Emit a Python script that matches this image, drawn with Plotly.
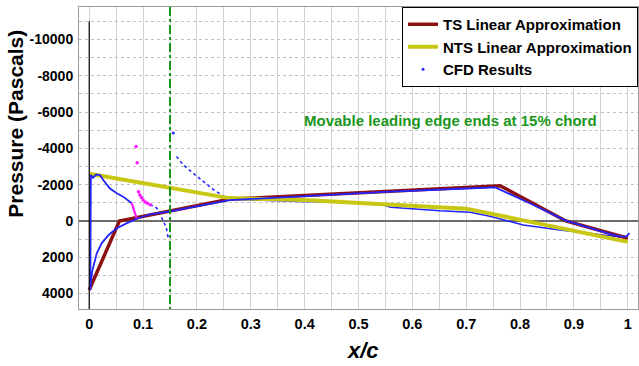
import plotly.graph_objects as go

# ---- data ----
ts_x = [0.0, 0.056, 0.26, 0.763, 0.885, 1.0]
ts_y = [3800, 0, -1200, -1945, 0, 950]

nts_x = [0.0, 0.26, 0.40, 0.70, 1.0]
nts_y = [-2600, -1260, -1150, -680, 1150]

# CFD lower surface (dense, looks continuous)
cfd_low_x = [0.001, 0.006, 0.014, 0.023, 0.036, 0.051, 0.069, 0.091, 0.113, 0.15,
             0.26, 0.40, 0.55, 0.70, 0.754, 0.82, 0.885, 0.94, 0.985, 0.998, 1.003]
cfd_low_y = [3800, 2700, 1780, 1230, 770, 400, 130, -150, -370, -530,
             -1150, -1380, -1600, -1790, -1850, -950, -20, 480, 860, 850, 660]

# CFD upper surface near leading edge
cfd_le_x = [0.002, 0.003, 0.007, 0.013, 0.020, 0.026, 0.038, 0.051, 0.063, 0.072, 0.079]
cfd_le_y = [3800, -2540, -2380, -2560, -2530, -2260, -1800, -1525, -1340, -1160, -975]

# CFD magenta segment and scattered magenta points
mag_line_x = [0.079, 0.082, 0.085, 0.088]
mag_line_y = [-975, -700, -330, -150]
mag_pts_x = [0.087, 0.089, 0.0915, 0.094, 0.097, 0.100, 0.104, 0.108, 0.113]
mag_pts_y = [-4100, -3210, -1615, -1430, -1290, -1160, -1050, -975, -900]

# CFD scattered points behind the hinge
cfd_sc_x = [0.113, 0.118, 0.122, 0.127, 0.131, 0.137, 0.143, 0.147]
cfd_sc_y = [-900, -860, -800, -650, -400, -60, 350, 1000]

# CFD upper surface after the hinge (sparse dotted branch)
cfd_br_x = [0.162, 0.175, 0.193, 0.212, 0.230, 0.246, 0.261]
cfd_br_y = [-3550, -3085, -2630, -2165, -1745, -1430, -1195]
cfd_iso_x = [0.156]
cfd_iso_y = [-4850]

# CFD upper surface, rest of chord
cfd_up_x = [0.261, 0.30, 0.39, 0.466, 0.546, 0.56, 0.651, 0.707, 0.744, 0.806, 0.874, 0.936, 0.986, 1.0]
cfd_up_y = [-1195, -1150, -1080, -1030, -880, -760, -560, -480, -260, 220, 500, 700, 880, 850]

x_ticks = [0, 0.1, 0.2, 0.3, 0.4, 0.5, 0.6, 0.7, 0.8, 0.9, 1]
y_ticks = [-10000, -8000, -6000, -4000, -2000, 0, 2000, 4000]
y_tick_text = ["-10000", "-8000", "-6000", "-4000", "-2000", "0", "2000", "4000"]

hinge_x = 0.15
note_text = "Movable leading edge ends at 15% chord"

FONT = "Liberation Sans, Arial, sans-serif"
RED = "#8c1212"
YEL = "#c8c814"
BLUE = "#2323ff"
MAG = "#ff14ff"
GREEN = "#1a961a"

fig = go.Figure()

# CFD traces (drawn first, beneath approximations)
fig.add_trace(go.Scatter(x=cfd_up_x, y=cfd_up_y, mode="lines",
                         line=dict(color=BLUE, width=1.6), showlegend=False))
fig.add_trace(go.Scatter(x=cfd_br_x, y=cfd_br_y, mode="lines",
                         line=dict(color=BLUE, width=1.6, dash="dot"), showlegend=False))
fig.add_trace(go.Scatter(x=cfd_iso_x, y=cfd_iso_y, mode="markers",
                         marker=dict(color=BLUE, size=3), showlegend=False))
fig.add_trace(go.Scatter(x=cfd_sc_x, y=cfd_sc_y, mode="lines",
                         line=dict(color=BLUE, width=1.6, dash="dot"), showlegend=False))

# approximations
fig.add_trace(go.Scatter(x=ts_x, y=ts_y, mode="lines", name="<b>TS Linear Approximation</b>",
                         line=dict(color=RED, width=3.5)))
fig.add_trace(go.Scatter(x=nts_x, y=nts_y, mode="lines", name="<b>NTS Linear Approximation</b>",
                         line=dict(color=YEL, width=4)))

fig.add_trace(go.Scatter(x=cfd_low_x, y=cfd_low_y, mode="lines",
                         line=dict(color=BLUE, width=1.8), showlegend=False))
fig.add_trace(go.Scatter(x=cfd_le_x, y=cfd_le_y, mode="lines",
                         line=dict(color=BLUE, width=1.8), showlegend=False))
fig.add_trace(go.Scatter(x=mag_line_x, y=mag_line_y, mode="lines",
                         line=dict(color=MAG, width=2.2), showlegend=False))
fig.add_trace(go.Scatter(x=mag_pts_x, y=mag_pts_y, mode="markers",
                         marker=dict(color=MAG, size=3.5), showlegend=False))

# legend entry for CFD
fig.add_trace(go.Scatter(x=[None], y=[None], mode="markers", name="<b>CFD Results</b>",
                         marker=dict(color=BLUE, size=3)))

# reference lines
fig.add_shape(type="line", xref="x", yref="y", x0=0, x1=0, y0=-11000, y1=4850,
              line=dict(color="black", width=1.2), layer="above")
fig.add_shape(type="line", xref="x", yref="y", x0=hinge_x, x1=hinge_x, y0=-11790, y1=4850,
              line=dict(color=GREEN, width=2, dash="dashdot"), layer="above")

fig.add_annotation(x=0.671, y=-5510, xref="x", yref="y", text="<b>" + note_text + "</b>",
                   showarrow=False, font=dict(family=FONT, size=15, color=GREEN))

# axis titles
fig.add_annotation(x=-0.113, y=0.613, xref="paper", yref="paper", text="<b>Pressure (Pascals)</b>",
                   textangle=-90, showarrow=False, xanchor="center", yanchor="middle",
                   font=dict(family=FONT, size=21, color="black"))
fig.add_annotation(x=0.508, y=-0.136, xref="paper", yref="paper", text="<b><i>x/c</i></b>",
                   showarrow=False, xanchor="center", yanchor="middle",
                   font=dict(family=FONT, size=22, color="black"))

fig.update_layout(
    width=639, height=366,
    margin=dict(l=79, r=1, t=7, b=57),
    paper_bgcolor="white", plot_bgcolor="white",
    font=dict(family=FONT, color="black"),
    legend=dict(x=1, y=1, xanchor="right", yanchor="top",
                bgcolor="white", bordercolor="black", borderwidth=1,
                font=dict(family=FONT, size=15, color="black"),
                tracegroupgap=0, itemwidth=30),
    xaxis=dict(range=[-0.019, 1.019], tickvals=x_ticks,
               tickfont=dict(family=FONT, size=14.5, color="black", weight="bold"),
               showgrid=True, gridcolor="#d4d4d4", gridwidth=1,
               minor=dict(dtick=0.05, showgrid=True, gridcolor="#d4d4d4", gridwidth=1),
               zeroline=False, showline=True, linecolor="#9a9a9a", linewidth=1, mirror=True,
               ticks="", ticklabelstandoff=2),
    yaxis=dict(range=[4850, -11790], tickvals=y_ticks, ticktext=y_tick_text,
               tickfont=dict(family=FONT, size=14, color="black", weight="bold"),
               showgrid=True, gridcolor="#c0c0c0", gridwidth=1, griddash="dot",
               minor=dict(dtick=1000, showgrid=True, gridcolor="#c0c0c0", gridwidth=1, griddash="dot"),
               zeroline=True, zerolinecolor="#6e6e6e", zerolinewidth=1.5,
               showline=True, linecolor="#9a9a9a", linewidth=1, mirror=True,
               ticks="", ticklabelstandoff=2),
)

fig.write_html("out.html")
